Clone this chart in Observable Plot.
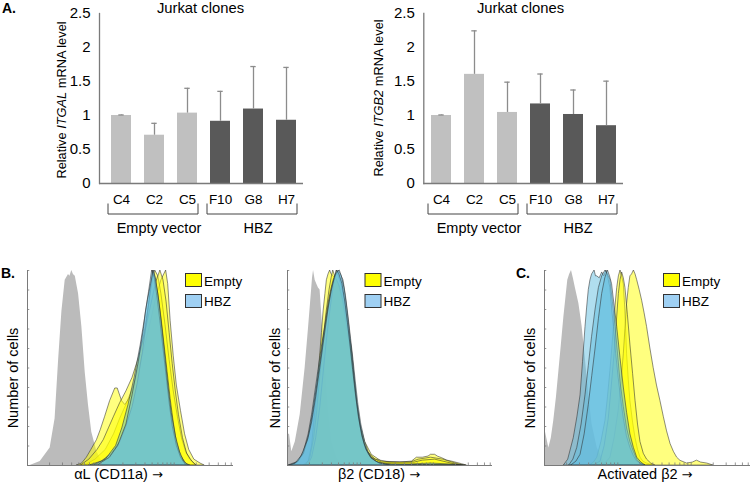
<!DOCTYPE html>
<html><head><meta charset="utf-8">
<script src="https://cdn.jsdelivr.net/npm/d3@7"></script>
<script src="https://cdn.jsdelivr.net/npm/@observablehq/plot@0.6"></script>
<style>
body{margin:0;background:#fff;}
#fig{position:relative;width:750px;height:485px;overflow:hidden;background:#fff;font-family:"Liberation Sans",Arial,Helvetica,sans-serif;}
#fig svg{position:absolute;overflow:visible;}
</style></head><body><div id="fig"></div>
<script>
// ---------- Panel A data ----------
const categories = ["C4","C2","C5","F10","G8","H7"];
const groups = ["Empty vector","Empty vector","Empty vector","HBZ","HBZ","HBZ"];
const groupNames = ["Empty vector","HBZ"];
const itgalMean  = [1.00, 0.71, 1.035, 0.915, 1.095, 0.93];
const itgalUpper = [1.008, 0.885, 1.40, 1.355, 1.72, 1.707];
const itgb2Mean  = [1.00, 1.605, 1.045, 1.17, 1.015, 0.85];
const itgb2Upper = [1.008, 2.245, 1.49, 1.61, 1.375, 1.505];
const yTicks = [0, 0.5, 1, 1.5, 2, 2.5];
const yTickLabels = ["0", "0.5", "1", "1.5", "2", "2.5"];

// ---------- Panels B / C data: [channel (0-100), % of max] ----------
const cd11aIsotype = [[0,0],[1.3,0],[6.2,2],[11,9],[13.4,24],[15.1,54],[16.7,79],[18.3,95],[19.9,98],[20.6,97],[21.5,100],[22.3,98],[23.2,97],[24.8,88],[26.4,71],[28,48],[29.6,31],[31.2,17],[33.7,7],[36.1,2],[38.5,0]];
const cd11aEmpty = [
  [[28,0],[33,3],[38,8],[42,16],[45,24],[48,31],[51,39],[54,49],[57,61],[60,74],[62.5,86],[65,95],[67.3,100],[68.3,93],[69.5,74],[71,56],[72.5,41],[74.5,28],[76.5,16],[78.5,8],[81,3],[84,1],[86,0]],
  [[24,0],[26.5,1],[28.8,4],[31,8],[33.7,13],[35.5,18],[37.7,25],[40.1,33],[42.6,39.5],[43.8,39.5],[45.9,33],[47.5,31],[50,35],[52.4,43],[55,57],[57.5,72],[59.5,86],[61,96],[62,100],[63.5,97],[65,88],[67,72],[69,54],[71,38],[73,25],[75,14],[77,7],[79,3],[82,0]],
  [[26,0],[30,3],[34,8],[37,13],[39.5,19],[42,25],[45,32],[48,38],[51,45],[54,55],[57,67],[60,82],[62.5,94],[64.5,100],[66,95],[67.5,84],[69,68],[70.5,52],[72,38],[73.5,26],[75.5,14],[77.5,6],[80,2],[82,0]]
];
const cd11aHBZ = [
  [[30,0],[36,2],[41,6],[45,12],[48,20],[51,30],[53.5,42],[56,58],[58.5,78],[60,91],[61,100],[62,97],[63.5,88],[65,76],[66.5,62],[68,48],[69.5,34],[71,22],[72.5,12],[74.5,5],[77,1],[79,0]],
  [[32,0],[38,3],[43,10],[46,19],[49,31],[52,45],[55,62],[57,75],[59,89],[60.5,100],[61.8,96],[63,87],[64.5,74],[66,60],[67.5,46],[69,32],[70.5,20],[72.5,10],[74.5,4],[77,0]],
  [[34,0],[40,4],[44,10],[48,21],[51,36],[54,53],[56.5,70],[57.5,79],[58.5,85],[60,93],[61.3,100],[62.5,95],[64,84],[65.5,70],[67,55],[68.5,40],[70,27],[72,15],[74,7],[76,2],[78,0]]
];

const cd18Isotype = [[0,16],[1,16],[2.1,7],[3.8,12],[6.2,26],[8.6,50],[10.3,71],[11.6,88],[12.2,96],[12.7,100],[13.5,95],[14.3,93],[15.1,91],[15.9,90],[17.1,71],[18.4,50],[20,28],[21.6,12],[24.1,4],[26.5,0]];
const cd18Empty = [
  [[8,0],[10.3,2],[12,10],[13.5,27],[14.8,42],[15.9,56],[16.8,68],[17.6,79],[18.5,88],[19.2,95],[20,98],[20.8,100],[21.5,98],[22.5,97],[24,95],[25.5,92],[27,86],[28.5,78],[30,68],[31.4,60],[32.6,47],[33.8,33],[35.5,21],[37.9,12],[41.1,5.5],[46,2],[55,1.5],[60.7,2],[63.1,4],[66,4],[68.8,4.6],[70,5.5],[72,5.5],[73.5,4.5],[75.3,3.8],[78,2.5],[80.2,2],[85,0.7],[87.5,0]],
  [[9,0],[11,3],[13,14],[14.5,28],[16,46],[17.5,63],[19,78],[20.5,90],[21.5,96],[22.3,100],[23.3,97],[25,93],[27,85],[29,72],[31,58],[32.8,42],[34.5,27],[36.5,15],[39,7],[43,3],[50,1.5],[60,1.5],[64,3],[70,4],[76,3],[82,1],[86,0]],
  [[10,0],[12,4],[14,14],[16,30],[17.5,46],[19,62],[20.5,76],[22,88],[23.2,96],[24,100],[25,97],[26.5,92],[28,84],[29.5,73],[31,60],[32.5,46],[34,32],[35.8,19],[38,9],[41,4],[46,1.5],[62,1.5],[66,2.5],[72,3],[78,1.5],[84,0]]
];
const cd18HBZ = [
  [[0.5,0],[3,1],[5.4,2],[8,7],[10.3,16],[12,26],[13.5,37],[15,48],[16.8,61],[18.5,72],[20,83],[21.3,90],[22.5,95],[23.8,98],[24.9,100],[26,98],[27.3,95],[28.5,87],[29.8,76],[31,65],[32.2,54],[33.4,42],[34.6,31],[36,21],[37.9,12],[39.5,7],[41.1,4],[44.4,1.2],[51,0.5],[60,0.5],[70,1],[80,0.5],[87,0]],
  [[2,0],[5,1.5],[8,6],[10.5,15],[12.5,27],[14.5,41],[16.5,56],[18.5,71],[20.5,84],[22,92],[23.5,97],[24.5,99],[25.5,100],[26.5,97],[27.8,91],[29,82],[30.3,70],[31.6,57],[32.8,44],[34,32],[35.5,21],[37.5,11],[40,5],[43,2],[48,0.5],[85,0]],
  [[1,0],[4,1],[7,5],[10,13],[12,22],[14,35],[16,50],[18,65],[20,80],[21.5,89],[23,96],[24.2,100],[25.3,98],[26.8,93],[28.2,84],[29.5,73],[30.8,61],[32,49],[33.3,37],[34.8,25],[36.5,15],[38.5,8],[41,3.5],[45,1],[50,0]]
];

const actIsotype = [[0,17],[0.5,17],[2.1,9],[3.3,14],[4.5,23],[5.8,35],[7,48.5],[8.2,62],[9.4,76],[10.4,86],[11.3,95],[12.2,98],[13.1,100],[14,96],[15,91],[16.7,83],[18.3,71],[19.9,54],[21.5,36],[23.1,21],[25.6,9],[28.8,2],[32,0]];
const actEmpty = [
  [[22,0],[24,1.5],[25.6,4],[27.6,12],[29.6,23],[30.8,35],[32,48.5],[32.9,60],[33.7,71],[34.5,82],[35.3,91],[36.1,97],[36.9,100],[37.7,97],[38.5,93],[39.3,79],[40.1,57],[40.9,44],[41.7,33],[43,22],[44.2,14],[45.4,8],[46.6,4],[48,2],[49.8,1],[53,0]],
  [[28,0],[30,1.5],[32,4],[34,14],[36,28],[37.3,42],[38.5,57],[39.3,70],[40.1,83],[40.9,91],[41.7,97],[42.5,98],[43.4,100],[44.2,98],[45,95],[46.2,90],[47.4,84.5],[48.6,78],[49.8,71],[51.4,60],[53,50],[54.6,41],[56.3,33],[57.9,25],[59.5,17.5],[61.2,11],[62.8,7],[64.4,4],[66,2.4],[69.2,1],[72,1.5],[74,2.5],[76,1.5],[79,1],[82,0]],
  [[24,0],[27.2,2],[29.2,10],[31.2,24],[32.6,40],[34,57],[35,72],[36.1,88],[36.9,95],[37.7,99],[38.5,96],[39.3,91],[40.5,77],[41.7,62],[43,47],[44.2,33],[45.4,21],[46.6,12],[48.2,6],[49.8,3],[51.8,1],[53.8,0]]
];
const actHBZ = [
  [[9.4,0],[11.5,3],[14.2,14],[16,25],[17.5,36],[18.7,53],[19.9,71],[20.7,81],[21.5,90],[22.3,95],[23.1,98],[24.3,100],[25,97],[25.6,97],[26.8,96],[28,99],[29,97],[30.1,100],[31,96],[32,91],[32.8,81],[33.7,71],[34.8,57],[36,45],[37.2,34],[38.5,24],[40,15],[41.7,9],[43.3,5],[45,2],[48.2,0]],
  [[12,0],[14,3],[15.9,9],[18,21],[19.9,36],[21.5,51],[23.1,66],[24.8,80],[26.4,91],[28,97],[29.6,100],[30.8,98],[32,95],[33.2,84],[34.5,71],[35.7,57],[36.9,43],[38.5,30],[40.1,19],[41.7,12],[43.4,7],[45,3],[46.6,1],[49,0]],
  [[13,0],[15.5,2],[17.5,5.5],[19.5,16],[21.5,31],[23.2,46],[24.8,60],[26.4,75],[28,88],[29.5,96],[30.8,100],[31.8,97],[32.8,93],[34,82],[35.3,71],[36.9,55],[38.5,40],[40.1,27],[41.7,16],[43.4,9],[45,4],[47,1.5],[49,0]]
];
const legendLabels = ["Empty", "HBZ"];
const histYTicks = [0,10,20,30,40,50,60,70,80,90,100];
const decadeStarts = [0, 35.6, 71.2];

// ---------- styling ----------
const FONT = '"Liberation Sans", Arial, Helvetica, sans-serif';
const LIGHT = "#c0c0c0", DARK = "#595959", ERR = "#8c8c8c", AXIS = "#7a7a7a";
const YEL = "#ffff00", BLUE = "#61bde0", GRAY = "#bbbbbb", OUT = "#2a2a2a";
const fig = document.getElementById("fig");

function place(el, left, top) {
  el.style.left = left + "px"; el.style.top = top + "px"; fig.appendChild(el); return el;
}

const brackets = [];
function barPanel(left, means, uppers, frameLeft, frameRight, xRange) {
  const data = categories.map((c, i) => ({cat: c, group: groups[i], mean: means[i], upper: uppers[i]}));
  const W = 375, H = 245;
  const p = Plot.plot({
    width: W, height: H,
    marginLeft: frameLeft, marginRight: W - frameRight, marginTop: 13, marginBottom: H - 183,
    style: {fontFamily: FONT, background: "transparent", color: "#000"},
    x: {type: "band", domain: categories, range: xRange, paddingInner: 0.39, paddingOuter: 0.2, axis: null},
    y: {domain: [0, 2.5], axis: null},
    marks: [
      Plot.barY(data.filter(d => d.group === groupNames[0]), {x: "cat", y: "mean", fill: LIGHT}),
      Plot.barY(data.filter(d => d.group === groupNames[1]), {x: "cat", y: "mean", fill: DARK}),
      Plot.ruleX(data, {x: "cat", y1: "mean", y2: "upper", stroke: ERR, strokeWidth: 1.3}),
      Plot.tickY(data, {x: "cat", y: "upper", stroke: ERR, strokeWidth: 1.3, inset: 7.3}),
      Plot.axisY({ticks: yTicks, tickFormat: d => yTickLabels[yTicks.indexOf(d)], tickSize: 0, tickPadding: 9, fontSize: 15, label: null}),
      Plot.axisX({tickSize: 0, tickPadding: 11, fontSize: 13.5, label: null}),
      Plot.frame({anchor: "left", stroke: AXIS, strokeWidth: 1.3}),
      Plot.ruleY([0], {stroke: AXIS, strokeWidth: 1.3})
    ]
  });
  place(p, left, 0);
  const xs = p.scale("x");
  const bw = xs.bandwidth;
  brackets.push([left + xs.apply(categories[0]) - 3, left + xs.apply(categories[2]) + bw + 1]);
  brackets.push([left + xs.apply(categories[3]) - 3, left + xs.apply(categories[5]) + bw + 1]);
  return p;
}

barPanel(0, itgalMean, itgalUpper, 99, 303, [103.3, 303.7]);
barPanel(375, itgb2Mean, itgb2Upper, 48.3, 248, [47.3, 249.7]);

function minorTicks() {
  const t = [];
  for (const d of decadeStarts) for (let k = 1; k <= 9; k++) {
    const v = d + 35.6 * Math.log10(k);
    if (v <= 100) t.push(v);
  }
  return t;
}

function histPanel(left, frameLeft, frameRight, iso, empties, hbzs) {
  const W = 250, H = 235, top = 250;
  const fx = d => d[0], fy = d => d[1];
  const marks = [Plot.areaY(iso, {x: fx, y: fy, fill: GRAY})];
  for (const c of empties) marks.push(Plot.areaY(c, {x: fx, y: fy, fill: YEL, fillOpacity: 0.5, stroke: OUT, strokeWidth: 0.6, strokeOpacity: 0.9}));
  for (const c of hbzs) marks.push(Plot.areaY(c, {x: fx, y: fy, fill: BLUE, fillOpacity: 0.5, stroke: OUT, strokeWidth: 0.6, strokeOpacity: 0.9}));
  marks.push(
    Plot.ruleX(minorTicks(), {x: d => d, y1: 0, y2: 1.3, stroke: AXIS, strokeWidth: 0.8}),
    Plot.ruleY(histYTicks, {y: d => d, x1: 0, x2: 1.1, stroke: AXIS, strokeWidth: 0.8}),
    Plot.ruleY([0], {stroke: AXIS, strokeWidth: 1}),
    Plot.ruleX([0], {stroke: AXIS, strokeWidth: 1})
  );
  const p = Plot.plot({
    width: W, height: H,
    marginLeft: frameLeft, marginRight: W - frameRight, marginTop: 20, marginBottom: 20,
    style: {fontFamily: FONT, background: "transparent"},
    x: {domain: [0, 100], axis: null},
    y: {domain: [0, 100], axis: null},
    marks
  });
  place(p, left, top);
}

histPanel(0, 27, 233, cd11aIsotype, cd11aEmpty, cd11aHBZ);
histPanel(250, 37, 242, cd18Isotype, cd18Empty, cd18HBZ);
histPanel(500, 44, 250, actIsotype, actEmpty, actHBZ);

// ---------- annotations overlay ----------
const ov = d3.create("svg").attr("width", 750).attr("height", 485)
  .style("left", "0px").style("top", "0px").style("font-family", FONT);
function txt(x, y, s, size, opts = {}) {
  const t = ov.append("text").attr("x", x).attr("y", y).attr("font-size", size)
    .attr("text-anchor", opts.anchor || "start").attr("fill", "#000");
  if (opts.bold) t.attr("font-weight", "bold");
  if (opts.rotate) t.attr("transform", `rotate(-90 ${x} ${y})`);
  t.text(s);
  return t;
}
txt(2, 12.5, "A.", 14, {bold: true});
txt(1, 278, "B.", 14, {bold: true});
txt(516, 278, "C.", 14, {bold: true});
txt(200.5, 12.8, "Jurkat clones", 14.8, {anchor: "middle"});
txt(520.5, 12.8, "Jurkat clones", 14.8, {anchor: "middle"});

function ylabelItalic(x, y, gene) {
  const t = ov.append("text").attr("x", x).attr("y", y).attr("font-size", 12.8)
    .attr("text-anchor", "middle").attr("transform", `rotate(-90 ${x} ${y})`);
  t.append("tspan").text("Relative ");
  t.append("tspan").attr("font-style", "italic").text(gene);
  t.append("tspan").text(" mRNA level");
}
ylabelItalic(66, 100, "ITGAL");
ylabelItalic(383, 98, "ITGB2");

brackets.forEach(([a, b], i) => {
  ov.append("path").attr("d", `M${a},203.5V214H${b}V203.5`).attr("fill", "none")
    .attr("stroke", "#444").attr("stroke-width", 1);
  txt((a + b) / 2 + 6, 233, groupNames[i % 2], 14.5, {anchor: "middle"});
});

const histLabels = [
  {ylx: 18, xlx: 118.5, xl: "αL (CD11a)", legX: 185.5},
  {ylx: 280, xlx: 379, xl: "β2 (CD18)", legX: 365},
  {ylx: 535, xlx: 645, xl: "Activated β2", legX: 663.5}
];
for (const h of histLabels) {
  txt(h.ylx, 378, "Number of cells", 14.5, {anchor: "middle", rotate: true});
  const t = txt(h.xlx, 479, h.xl + " ", 14.5, {anchor: "middle"});
  t.append("tspan").attr("font-family", "DejaVu Sans").attr("font-size", 13).text("→");
  ov.append("rect").attr("x", h.legX).attr("y", 273.5).attr("width", 16).attr("height", 13)
    .attr("fill", YEL).attr("stroke", "#333").attr("stroke-width", 1);
  ov.append("rect").attr("x", h.legX).attr("y", 294.5).attr("width", 16).attr("height", 13)
    .attr("fill", "#9fd0f3").attr("stroke", "#333").attr("stroke-width", 1);
  txt(h.legX + 18.5, 285.5, legendLabels[0], 13.5);
  txt(h.legX + 18.5, 305.5, legendLabels[1], 13.5);
}
fig.appendChild(ov.node());
</script></body></html>
